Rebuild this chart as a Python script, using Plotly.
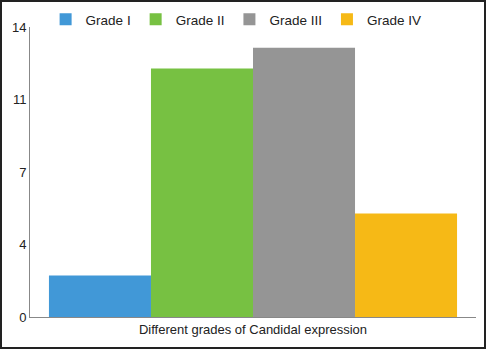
import plotly.graph_objects as go

categories = ["Different grades of Candidal expression"]
series_names = ["Grade I", "Grade II", "Grade III", "Grade IV"]
series_values = [2, 12, 13, 5]
colors = ["#4198d7", "#77c142", "#959595", "#f6b916"]
tick_vals = [0, 3.5, 7, 10.5, 14]
tick_text = ["0", "4", "7", "11", "14"]

fig = go.Figure()
for name, val, c in zip(series_names, series_values, colors):
    fig.add_trace(go.Bar(x=categories, y=[val], name=name, marker=dict(color=c, line=dict(width=0))))

W, H = 486, 349
ml, mr, mt, mb = 30, 10, 4, 32
plot_top = 27
pw, ph = W - ml - mr, H - mt - mb
ytop = (H - mb - plot_top) / ph

fig.update_layout(
    width=W, height=H,
    margin=dict(l=ml, r=mr, t=mt, b=mb, autoexpand=False),
    paper_bgcolor="white", plot_bgcolor="white",
    barmode="group", bargap=0.085, bargroupgap=0,
    font=dict(family="Liberation Sans, Arial, sans-serif", size=13, color="#222"),
    showlegend=True,
    legend=dict(orientation="h", x=0.035, y=1.0, xanchor="left", yanchor="top",
                font=dict(size=13.5), itemwidth=30, tracegroupgap=0,
                bgcolor="rgba(0,0,0,0)"),
    xaxis=dict(showline=True, linecolor="#888", linewidth=1, ticks="", showgrid=False,
               tickfont=dict(size=13), zeroline=False, automargin=False),
    yaxis=dict(range=[0, 14], domain=[0, ytop], tickvals=tick_vals, ticktext=tick_text, showline=True,
               linecolor="#888", linewidth=1, ticks="", showgrid=False, zeroline=False,
               tickfont=dict(size=13), automargin=False),
    shapes=[dict(type="rect", xref="paper", yref="paper",
                 x0=(1 - ml) / pw, x1=(W - 1 - ml) / pw,
                 y0=-(mb - 1) / ph, y1=(H - 1 - mb) / ph,
                 line=dict(color="#222", width=2), fillcolor="rgba(0,0,0,0)", layer="above")],
)

fig.write_html("out.html", config={"displayModeBar": False},
               post_script="document.body.style.margin='0';document.body.style.padding='0';")
